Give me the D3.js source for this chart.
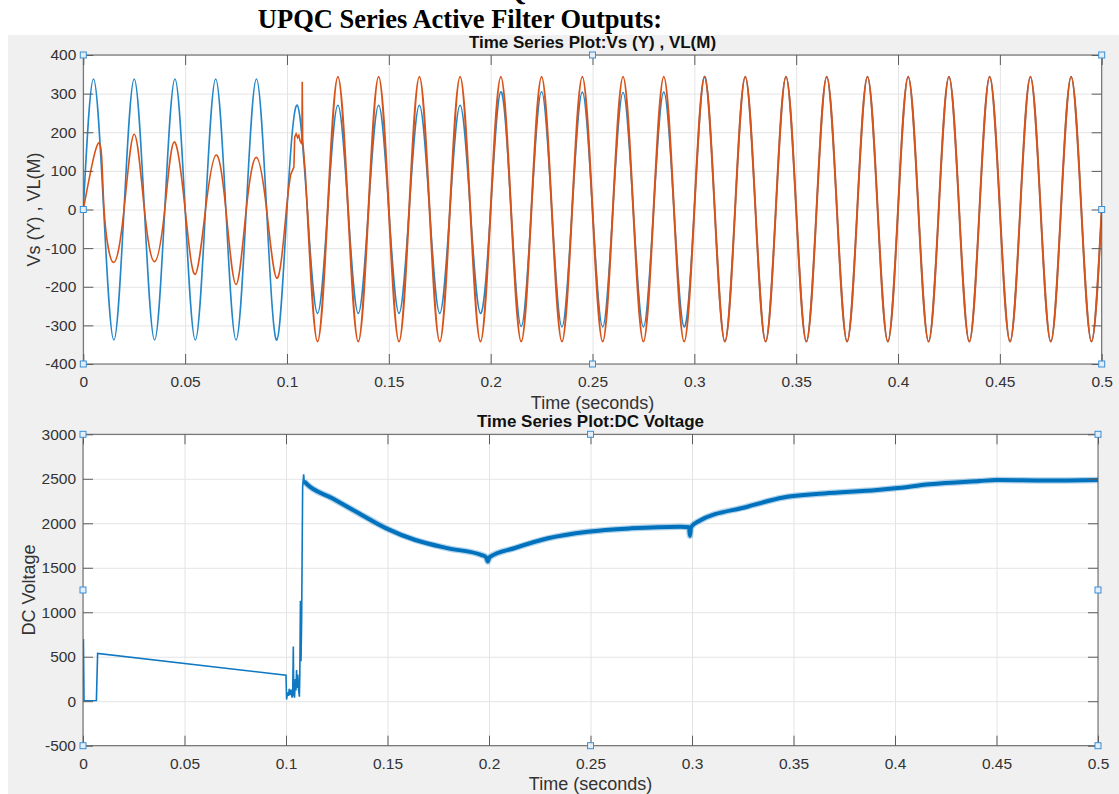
<!DOCTYPE html>
<html>
<head>
<meta charset="utf-8">
<script src="https://cdn.jsdelivr.net/npm/d3@7"></script>
<style>
  body { margin: 0; background: #fff; }
  svg { display: block; font-family: "Liberation Sans", Arial, sans-serif; }
  .tick text { fill: #333; font-size: 15.5px; }
</style>
</head>
<body>
<div id="chart"></div>
<script>
// ---- Data ----
const timeTicks = [0, 0.05, 0.1, 0.15, 0.2, 0.25, 0.3, 0.35, 0.4, 0.45, 0.5];
const voltTicks = [-400, -300, -200, -100, 0, 100, 200, 300, 400];
const dcTicks = [-500, 0, 500, 1000, 1500, 2000, 2500, 3000];

// half-cycle length of the 50 Hz waves (s)
const halfCycle = 0.01;

// Vs: one extremum per half cycle, at 0.005 + 0.01k
const vsPeaks = [
  338, -338, 338, -338, 338, -338, 338, -338, 338, -338,
  270, -269, 270, -269, 270, -269, 270, -269, 270, -269,
  305, -303, 305, -304, 304, -304, 303, -304, 304, -304,
  344, -342, 344, -342, 344, -342, 344, -342, 344, -342,
  344, -342, 344, -342, 344, -342, 344, -342, 344, -342
];

// VL before the compensation starts: [time, value]
const vlStart = [
  [0, 0], [0.0078, 173], [0.0102, 0], [0.0148, -137], [0.02, 0], [0.025, 195],
  [0.03, 0], [0.035, -135], [0.04, 0], [0.0446, 175], [0.05, 0], [0.0549, -168],
  [0.06, 0], [0.0652, 141], [0.07, 0], [0.075, -194], [0.08, 0], [0.085, 135],
  [0.09, 0], [0.095, -178], [0.0997, 0]
];
// VL switching transient
const vlTransient = [
  [0.0997, 0], [0.1008, 55], [0.1018, 90], [0.1026, 100], [0.1034, 110], [0.1038, 188],
  [0.1045, 196], [0.1052, 186], [0.1058, 192], [0.1064, 178], [0.107, 172], [0.1073, 176],
  [0.1075, 331], [0.1077, 176], [0.108, 160], [0.109, 95], [0.11, 0]
];
// VL after 0.11 s: extrema at 0.005 + 0.01k, k = 11..49
const vlPeaks = [
  -342, 344, -342, 344, -342, 344, -342, 344, -342, 344,
  -342, 344, -342, 344, -342, 344, -342, 344, -342, 344,
  -342, 344, -342, 344, -342, 344, -342, 344, -342, 344,
  -342, 344, -342, 344, -342, 344, -342, 344, -342
];

// DC link voltage: [time, value]
const dcStart = [
  [0.0002, 700], [0.0005, 5], [0.0066, 8], [0.0072, 538], [0.1, 292], [0.1003, 20],
  [0.1008, 100], [0.1012, 60], [0.1016, 140], [0.102, 70], [0.1025, 130], [0.103, 40],
  [0.1033, 90], [0.1036, 615], [0.1038, 80], [0.1042, 40], [0.1046, 250], [0.1049, 120],
  [0.1052, 350], [0.1055, 150], [0.1058, 300], [0.1062, 130], [0.1066, 50], [0.1068, 300],
  [0.1071, 1130], [0.1074, 450], [0.1077, 900], [0.1079, 1510], [0.1082, 2410],
  [0.1087, 2550], [0.109, 2470]
];
const dcMain = [
  [0.109, 2470], [0.1098, 2450], [0.1228, 2280], [0.1359, 2112], [0.1494, 1943],
  [0.1637, 1812], [0.18, 1718], [0.1964, 1643], [0.1985, 1620], [0.1994, 1570],
  [0.2003, 1620], [0.2128, 1722], [0.229, 1831], [0.2487, 1905], [0.27, 1943],
  [0.2944, 1961], [0.2985, 1955], [0.299, 1860], [0.2995, 1955], [0.3028, 2018],
  [0.3273, 2186], [0.345, 2290], [0.365, 2335], [0.3911, 2374], [0.4, 2393],
  [0.417, 2438], [0.4416, 2475], [0.45, 2486], [0.4746, 2480], [0.5, 2486]
];

// zero crossings between the listed extrema
function waveKnots(peaks, firstIndex) {
  const pts = [];
  peaks.forEach((p, i) => {
    const k = firstIndex + i;
    pts.push([k * halfCycle, 0], [k * halfCycle + halfCycle / 2, p]);
  });
  pts.push([(firstIndex + peaks.length) * halfCycle, 0]);
  return pts;
}

// ---- Layout ----
const W = 1119, H = 794;
const svg = d3.select('#chart').append('svg')
  .attr('width', W).attr('height', H)
  .attr('viewBox', `0 0 ${W} ${H}`);

// figure background
svg.append('rect').attr('x', 8).attr('y', 35).attr('width', W - 8).attr('height', H - 35)
  .attr('fill', '#f0f0f0');

// page heading (serif, as in the document); the line above is cut by the page edge
svg.append('text').attr('x', 516).attr('y', 0).attr('text-anchor', 'middle')
  .style('font-family', '"Liberation Serif", "Times New Roman", serif')
  .style('font-weight', 'bold').style('font-size', '26px').text('Q');
svg.append('text').attr('x', 460).attr('y', 27.5).attr('text-anchor', 'middle')
  .style('font-family', '"Liberation Serif", "Times New Roman", serif')
  .style('font-weight', 'bold').style('font-size', '26.5px')
  .text('UPQC Series Active Filter Outputs:');

let clipId = 0;

// Draws one MATLAB-style axes; returns scales and a layer for lines
function drawPanel(box, yDomain, yTicks) {
  const x = d3.scaleLinear([0, 0.5], [box.left, box.right]);
  const y = d3.scaleLinear(yDomain, [box.bottom, box.top]);
  const w = box.right - box.left, h = box.bottom - box.top;

  svg.append('rect').attr('x', box.left).attr('y', box.top)
    .attr('width', w).attr('height', h).attr('fill', '#fff');

  // grid
  svg.append('g').attr('transform', `translate(0,${box.bottom})`)
    .call(d3.axisBottom(x).tickValues(timeTicks).tickSize(-h).tickFormat(''))
    .call(g => { g.select('.domain').remove(); g.selectAll('line').attr('stroke', '#e4e4e4'); });
  svg.append('g').attr('transform', `translate(${box.left},0)`)
    .call(d3.axisLeft(y).tickValues(yTicks).tickSize(-w).tickFormat(''))
    .call(g => { g.select('.domain').remove(); g.selectAll('line').attr('stroke', '#e4e4e4'); });

  const id = 'clip' + (clipId++);
  svg.append('clipPath').attr('id', id).append('rect')
    .attr('x', box.left).attr('y', box.top).attr('width', w).attr('height', h);
  const layer = svg.append('g').attr('clip-path', `url(#${id})`);
  return { x, y, w, h, layer };
}

// Ticks, box, edit handles and labels, drawn above the lines
function finishPanel(p, box, yTicks, title, xLabel, yLabel) {
  const { x, y, w, h } = p;
  const style = g => {
    g.select('.domain').remove();
    g.selectAll('line').attr('stroke', '#5c5c5c');
  };
  svg.append('g').attr('transform', `translate(0,${box.bottom})`)
    .call(d3.axisBottom(x).tickValues(timeTicks).tickSize(-10).tickPadding(12)
      .tickFormat(d => String(d)))
    .call(style);
  svg.append('g').attr('transform', `translate(0,${box.top})`)
    .call(d3.axisTop(x).tickValues(timeTicks).tickSize(-10).tickFormat(''))
    .call(style);
  svg.append('g').attr('transform', `translate(${box.left},0)`)
    .call(d3.axisLeft(y).tickValues(yTicks).tickSize(-10).tickPadding(7)
      .tickFormat(d => String(d)))
    .call(style);
  svg.append('g').attr('transform', `translate(${box.right},0)`)
    .call(d3.axisRight(y).tickValues(yTicks).tickSize(-10).tickFormat(''))
    .call(style);

  svg.append('rect').attr('x', box.left).attr('y', box.top)
    .attr('width', w).attr('height', h)
    .attr('fill', 'none').attr('stroke', '#5c5c5c').attr('stroke-width', 1);

  // selection handles
  const mx = (box.left + box.right) / 2, my = (box.top + box.bottom) / 2;
  const handles = [[box.left, box.top], [mx, box.top], [box.right, box.top],
    [box.left, my], [box.right, my],
    [box.left, box.bottom], [mx, box.bottom], [box.right, box.bottom]];
  svg.append('g').selectAll('rect').data(handles).join('rect')
    .attr('x', d => d[0] - 3).attr('y', d => d[1] - 3)
    .attr('width', 6).attr('height', 6)
    .attr('fill', '#e4eef8').attr('stroke', '#3b8fd6').attr('stroke-width', 1);

  svg.append('text').attr('x', mx).attr('y', box.titleY).attr('text-anchor', 'middle')
    .style('font-weight', 'bold').style('font-size', '17px').attr('fill', '#111')
    .text(title);
  svg.append('text').attr('x', mx).attr('y', box.xLabelY).attr('text-anchor', 'middle')
    .style('font-size', '18px').attr('fill', '#333').text(xLabel);
  svg.append('text').attr('transform', `translate(${box.yLabelX},${my})rotate(-90)`)
    .attr('text-anchor', 'middle').style('font-size', '18px').attr('fill', '#333')
    .text(yLabel);
}

// ---- Top panel: Vs and VL ----
const topBox = { left: 83.3, right: 1101.7, top: 55, bottom: 364,
  titleY: 47.5, xLabelY: 409, yLabelX: 40 };
const topPanel = drawPanel(topBox, [-400, 400], voltTicks);
const wave = d3.line().x(d => topPanel.x(d[0])).y(d => topPanel.y(d[1]));

topPanel.layer.append('path').datum(waveKnots(vsPeaks, 0))
  .attr('d', wave.curve(d3.curveNatural))
  .attr('fill', 'none').attr('stroke', '#2386c9').attr('stroke-width', 1.6);

const vlColor = '#d95319';
topPanel.layer.append('path').datum(vlStart)
  .attr('d', wave.curve(d3.curveNatural))
  .attr('fill', 'none').attr('stroke', vlColor).attr('stroke-width', 1.6);
topPanel.layer.append('path').datum(vlTransient)
  .attr('d', wave.curve(d3.curveLinear))
  .attr('fill', 'none').attr('stroke', vlColor).attr('stroke-width', 1.6);
topPanel.layer.append('path').datum(waveKnots(vlPeaks, 11))
  .attr('d', wave.curve(d3.curveNatural))
  .attr('fill', 'none').attr('stroke', vlColor).attr('stroke-width', 2);

finishPanel(topPanel, topBox, voltTicks, 'Time Series Plot:Vs (Y) , VL(M)',
  'Time (seconds)', 'Vs (Y) , VL(M)');

// ---- Bottom panel: DC voltage ----
const botBox = { left: 83, right: 1098, top: 434.3, bottom: 745.7,
  titleY: 427, xLabelY: 790, yLabelX: 35 };
const botPanel = drawPanel(botBox, [-500, 3000], dcTicks);
const dcLine = d3.line().x(d => botPanel.x(d[0])).y(d => botPanel.y(d[1]));

botPanel.layer.append('path').datum(dcStart)
  .attr('d', dcLine.curve(d3.curveLinear))
  .attr('fill', 'none').attr('stroke', '#0f78c2').attr('stroke-width', 1.6);
// ripple band: a soft wide stroke under a solid one
botPanel.layer.append('path').datum(dcMain)
  .attr('d', dcLine.curve(d3.curveMonotoneX))
  .attr('fill', 'none').attr('stroke', '#0072bd').attr('stroke-opacity', 0.3)
  .attr('stroke-width', 6.5);
botPanel.layer.append('path').datum(dcMain)
  .attr('d', dcLine.curve(d3.curveMonotoneX))
  .attr('fill', 'none').attr('stroke', '#0072bd').attr('stroke-width', 4);

finishPanel(botPanel, botBox, dcTicks, 'Time Series Plot:DC Voltage',
  'Time (seconds)', 'DC Voltage');
</script>
</body>
</html>
